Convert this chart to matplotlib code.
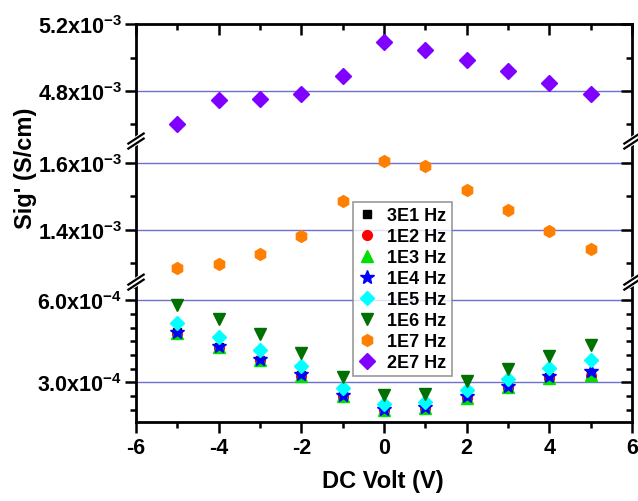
import numpy as np
import matplotlib
matplotlib.use('Agg')
import matplotlib.pyplot as plt
from matplotlib.ticker import FixedLocator, FuncFormatter
from matplotlib.lines import Line2D

# data (DC bias in V, conductivity in S/cm)
volt = [-5, -4, -3, -2, -1, 0, 1, 2, 3, 4, 5]
labels = ['3E1 Hz', '1E2 Hz', '1E3 Hz', '1E4 Hz', '1E5 Hz', '1E6 Hz', '1E7 Hz', '2E7 Hz']

sig_3e1 = [4.82e-4, 4.30e-4, 3.83e-4, 3.26e-4, 2.50e-4, 2.00e-4, 2.07e-4, 2.46e-4, 2.83e-4, 3.18e-4, 3.30e-4]
sig_1e2 = [4.78e-4, 4.27e-4, 3.80e-4, 3.23e-4, 2.47e-4, 1.98e-4, 2.05e-4, 2.43e-4, 2.80e-4, 3.15e-4, 3.24e-4]
sig_1e3 = [4.80e-4, 4.28e-4, 3.81e-4, 3.24e-4, 2.48e-4, 1.99e-4, 2.06e-4, 2.44e-4, 2.81e-4, 3.16e-4, 3.27e-4]
sig_1e4 = [4.85e-4, 4.33e-4, 3.86e-4, 3.29e-4, 2.53e-4, 2.03e-4, 2.10e-4, 2.49e-4, 2.86e-4, 3.23e-4, 3.41e-4]
sig_1e5 = [5.18e-4, 4.67e-4, 4.18e-4, 3.59e-4, 2.80e-4, 2.19e-4, 2.27e-4, 2.71e-4, 3.11e-4, 3.51e-4, 3.81e-4]
sig_1e6 = [5.82e-4, 5.33e-4, 4.78e-4, 4.06e-4, 3.19e-4, 2.52e-4, 2.56e-4, 3.04e-4, 3.50e-4, 3.96e-4, 4.35e-4]
sig_1e7 = [1.284e-3, 1.296e-3, 1.326e-3, 1.380e-3, 1.486e-3, 1.606e-3, 1.592e-3, 1.520e-3, 1.458e-3, 1.396e-3, 1.343e-3]
sig_2e7 = [4.603e-3, 4.748e-3, 4.752e-3, 4.782e-3, 4.891e-3, 5.094e-3, 5.047e-3, 4.985e-3, 4.917e-3, 4.846e-3, 4.782e-3]

series = [sig_3e1, sig_1e2, sig_1e3, sig_1e4, sig_1e5, sig_1e6, sig_1e7, sig_2e7]
markers = ['s', 'o', '^', '*', 'D', 'v', 'h', 'D']
colors = ['#000000', '#ff0000', '#00e000', '#0000ff', '#00ffff', '#007000', '#ff8000', '#8000ff']
msizes = [6, 7, 8, 10, 7.5, 9, 8.5, 8]

plt.rcParams['font.family'] = ['Liberation Sans', 'DejaVu Sans']
plt.rcParams['font.weight'] = 'bold'
plt.rcParams['axes.unicode_minus'] = False
plt.rcParams['mathtext.fontset'] = 'custom'
plt.rcParams['mathtext.rm'] = 'Liberation Sans:bold'
plt.rcParams['mathtext.default'] = 'rm'

fig = plt.figure(figsize=(6.38, 5.02), dpi=100)
L, W = 0.2132, 0.7774
ax_top = fig.add_axes([L, 0.717, W, 0.233])
ax_mid = fig.add_axes([L, 0.436, W, 0.281])
ax_bot = fig.add_axes([L, 0.157, W, 0.279])
axes = [ax_top, ax_mid, ax_bot]

ylims = [(4.5e-3, 5.2e-3), (1.243e-3, 1.666e-3), (1.54e-4, 6.66e-4)]
majors = [[4.8e-3, 5.2e-3], [1.4e-3, 1.6e-3], [3.0e-4, 6.0e-4]]
minors = [[4.6e-3, 5.0e-3], [1.3e-3, 1.5e-3],
          [2.0e-4, 2.5e-4, 3.5e-4, 4.0e-4, 4.5e-4, 5.0e-4, 5.5e-4, 6.5e-4]]
fmt3 = FuncFormatter(lambda v, p: '%.1fx10$^{-3}$' % (v * 1e3))
fmt4 = FuncFormatter(lambda v, p: '%.1fx10$^{-4}$' % (v * 1e4))
fmts = [fmt3, fmt3, fmt4]

grid_c = '#6f6fd0'
for ax, yl, mj, mn, f in zip(axes, ylims, majors, minors, fmts):
    # blue horizontal lines at the labelled values
    for g in mj:
        if g < yl[1] - 1e-12:
            ax.axhline(g, color=grid_c, lw=1.0, zorder=0)
    for s, m, c, ms in zip(series, markers, colors, msizes):
        ax.plot(volt, s, linestyle='none', marker=m, color=c, ms=ms, mec=c)
    ax.set_xlim(-6, 6)
    ax.set_ylim(*yl)
    ax.yaxis.set_major_locator(FixedLocator(mj))
    ax.yaxis.set_minor_locator(FixedLocator(mn))
    ax.yaxis.set_major_formatter(f)
    ax.xaxis.set_major_locator(FixedLocator([-6, -4, -2, 0, 2, 4, 6]))
    ax.xaxis.set_minor_locator(FixedLocator([-5, -3, -1, 1, 3, 5]))
    for sp in ax.spines.values():
        sp.set_linewidth(2)
    ax.tick_params(axis='y', which='both', left=True, right=True, direction='out',
                   labelsize=15.5, width=1.8, pad=2)
    ax.tick_params(axis='y', which='major', length=8)
    ax.tick_params(axis='y', which='minor', length=4.5)
    ax.tick_params(axis='x', which='both', top=False, bottom=False, labelbottom=False)
    ax.patch.set_alpha(0)

# right axis ticks point inwards
for ax in axes:
    for t in ax.yaxis.get_major_ticks() + ax.yaxis.get_minor_ticks():
        t.tick2line.set_marker(matplotlib.lines.TICKLEFT)

ax_top.spines['bottom'].set_visible(False)
ax_mid.spines['top'].set_visible(False)
ax_mid.spines['bottom'].set_visible(False)
ax_bot.spines['top'].set_visible(False)

ax_top.tick_params(axis='x', which='both', top=True, direction='in', width=1.8)
ax_top.tick_params(axis='x', which='major', length=8)
ax_top.tick_params(axis='x', which='minor', length=4.5)
ax_bot.tick_params(axis='x', which='both', bottom=True, labelbottom=True, direction='out',
                   labelsize=15.5, width=1.8, pad=3)
ax_bot.tick_params(axis='x', which='major', length=8)
ax_bot.tick_params(axis='x', which='minor', length=4.5)

for ax in axes:
    for lab in ax.get_xticklabels() + ax.get_yticklabels():
        lab.set_fontweight('bold')

# axis break marks (//) on both sides
for yb in [0.717, 0.436]:
    for xb in [L, L + W]:
        dx, dy = 0.012, 0.010
        fig.add_artist(Line2D([xb - dx, xb + dx], [yb - dy, yb + dy], color='white', lw=6,
                              transform=fig.transFigure))
        for off in [-0.005, 0.005]:
            fig.add_artist(Line2D([xb - dx, xb + dx], [yb + off - dy, yb + off + dy],
                                  color='black', lw=1.6, transform=fig.transFigure))

fig.text(0.040, 0.665, "Sig' (S/cm)", rotation=90, ha='center', va='center',
         fontsize=17, fontweight='bold')
fig.text(0.600, 0.040, 'DC Volt (V)', ha='center', va='center', fontsize=17, fontweight='bold')

handles = [Line2D([], [], linestyle='none', marker=m, color=c, mec=c, ms=ms)
           for m, c, ms in zip(markers, colors, msizes)]
leg = fig.legend(handles, labels, loc='upper left', bbox_to_anchor=(0.553, 0.596),
                 prop={'size': 13, 'weight': 'bold'}, frameon=True, fancybox=False,
                 edgecolor='#808080', handlelength=1.0, handletextpad=0.6,
                 labelspacing=0.22, borderpad=0.3, borderaxespad=0)
leg.get_frame().set_linewidth(1.2)

plt.savefig('out.png', dpi=100)
